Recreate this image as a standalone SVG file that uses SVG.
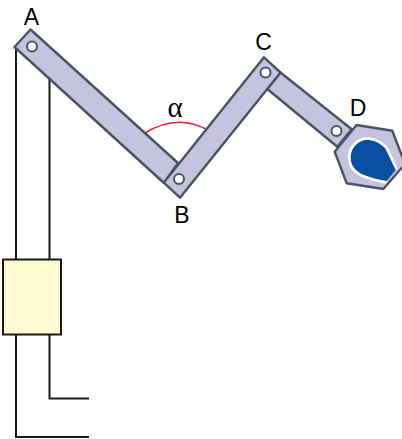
<svg xmlns="http://www.w3.org/2000/svg" width="402" height="439" viewBox="0 0 402 439">
<style>
.wire{fill:none;stroke:#1a1a1a;stroke-width:2}
.link{fill:#c5c3e0;stroke:#46555f;stroke-width:2.4;stroke-linejoin:round}
.pin{fill:#fff;stroke:#46555f;stroke-width:2}
text{font-family:"Liberation Sans",Arial,sans-serif;font-size:23px;fill:#000;text-anchor:middle}
</style>
<defs>
<path id="blue" d="M395.700 170C392 163 389 155 385 148C379 142 372 139.500 365 140C356 142 350 150 350.700 158.300C351 167 357 173 367 176C372 178 380 180 386.700 181"/>
</defs>
<g id="connectors">
<path class="wire" d="M16 47V437H89"/>
<path class="wire" d="M49.500 78V398.500H89"/>
</g>
<g id="block"><rect x="3" y="259.500" width="58" height="75" fill="#fffad2" stroke="#1a1a1a" stroke-width="2"/></g>
<path id="angle" d="M145 133Q176 113.500 206 129" fill="none" stroke="#ee2030" stroke-width="1.500"/>
<g id="node-A-link">
<path class="link" d="M30.500 29.500L14.500 47L164 183L178 163Z"/>
<circle class="pin" cx="32" cy="46.500" r="5"/>
<text x="31.500" y="25">A</text>
</g>
<g id="node-D-head">
<path class="link" d="M356.500 125L392.300 130.700L405 164L383.300 189L346.700 183.300L334.700 151.700Z"/>
<use href="#blue" fill="none" stroke="#fff" stroke-width="5.500"/>
<use href="#blue" fill="#0a4ea2"/>
<text x="358" y="116">D</text>
</g>
<g id="node-CD-link">
<path class="link" d="M280.500 72.500L267.300 89L337.300 146.700L351.700 129.300Z"/>
<circle class="pin" cx="336.500" cy="131" r="5"/>
</g>
<g id="node-BC-link">
<path class="link" d="M264 57.300L163.700 182.700L180 197.700L280.500 72.500Z"/>
<circle class="pin" cx="179" cy="179" r="5"/>
<circle class="pin" cx="265.500" cy="72.500" r="5"/>
<text x="182" y="223">B</text>
<text x="263.500" y="50">C</text>
</g>
<text id="alpha" x="175" y="117" style="font-family:'Liberation Serif',serif;font-size:29px">α</text>
</svg>
